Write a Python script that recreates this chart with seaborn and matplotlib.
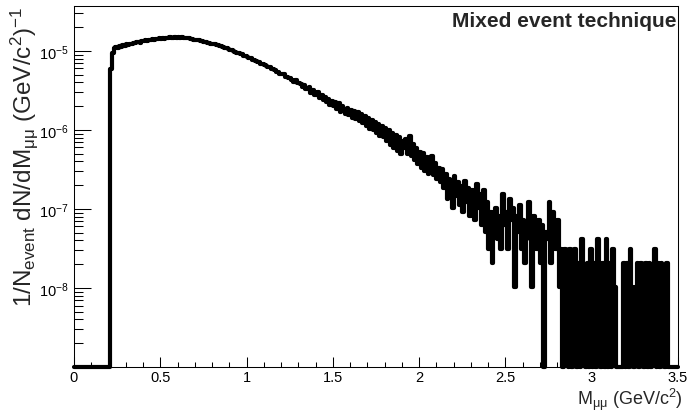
import numpy as np
import pandas as pd
import matplotlib
matplotlib.use('Agg')
import matplotlib.pyplot as plt
import matplotlib.ticker as ticker
import seaborn as sns


#### histogram binning / normalisation
bin_width = 0.01          # GeV/c^2
per_count = 1.03e-8       # 1/N_event dN/dM for one entry
y_min, y_max = 1e-9, 3.7e-5

#### entries per 0.01 GeV/c^2 bin
counts_below = [0] * 21   # 0.00 - 0.20, below the pair threshold

counts_rise = [             # 0.21 - 0.60
    580, 925, 1045, 1080, 1070, 1115, 1100, 1140, 1125, 1170,
    1150, 1195, 1180, 1230, 1215, 1250, 1270, 1240, 1300, 1285,
    1320, 1295, 1345, 1330, 1355, 1340, 1385, 1360, 1400, 1375,
    1410, 1390, 1420, 1405, 1440, 1415, 1430, 1455, 1425, 1450]

counts_peak = [             # 0.61 - 1.20
    1420, 1445, 1410, 1430, 1400, 1415, 1380, 1390, 1350, 1345,
    1320, 1330, 1290, 1300, 1255, 1270, 1230, 1240, 1195, 1190,
    1170, 1150, 1160, 1115, 1105, 1085, 1060, 1070, 1020, 1005,
    985, 965, 950, 915, 910, 880, 875, 845, 830, 815,
    790, 785, 755, 745, 730, 705, 700, 670, 660, 640,
    630, 605, 600, 575, 565, 555, 530, 525, 500, 495]

counts_fall = [             # 1.21 - 1.90
    495, 458, 460, 436, 438, 410, 396, 416, 376, 380,
    375, 336, 364, 322, 316, 336, 284, 314, 270, 268,
    290, 246, 270, 230, 250, 220, 236, 200, 226, 194,
    216, 180, 210, 165, 194, 174, 156, 184, 148, 174,
    138, 170, 132, 162, 126, 154, 118, 144, 110, 136,
    100, 130, 96, 122, 88, 116, 82, 108, 78, 102,
    70, 96, 62, 88, 58, 84, 52, 78, 48, 70]

counts_noisy = [            # 1.91 - 2.81
    58, 74, 48, 82, 45, 64, 41, 57, 36, 51,
    32, 49, 29, 44, 27, 40, 46, 26, 37, 23,
    32, 21, 31, 18, 27, 13, 23, 17, 10, 25,
    14, 21, 11, 19, 9, 22, 12, 18, 8, 17,
    11, 7, 20, 10, 15, 6, 17, 5, 12, 3,
    9, 2, 7, 10, 4, 8, 3, 15, 6, 9,
    3, 13, 7, 10, 1, 8, 5, 11, 3, 7,
    2, 6, 12, 4, 1, 8, 5, 3, 7, 2,
    6, 0, 5, 4, 12, 2, 9, 5, 3, 7, 1]

counts_tail = [             # 2.82 - 3.43
    3, 0, 3, 1, 0, 3, 0, 2, 3, 0,
    2, 0, 4, 1, 0, 2, 0, 3, 0, 2,
    0, 4, 1, 0, 2, 0, 4, 0, 2, 0,
    3, 1, 0, 0, 0, 0, 2, 0, 2, 0,
    3, 1, 0, 1, 2, 0, 2, 1, 0, 2,
    0, 2, 0, 1, 3, 0, 2, 0, 2, 1,
    0, 2]

counts_above = [0] * 6    # 3.44 - 3.49

y_decades = [1e-8, 1e-7, 1e-6, 1e-5]

counts = np.array(counts_below + counts_rise + counts_peak + counts_fall
                  + counts_noisy + counts_tail + counts_above)

edges = np.round(np.arange(len(counts) + 1) * bin_width, 2)
vals = counts * per_count
vals = np.clip(vals, y_min, None)   # empty bins sit on the frame, like ROOT
df = pd.DataFrame({'M': edges, 'y': np.append(vals, vals[-1])})

sns.set_style('ticks')
plt.rcParams['font.family'] = ['Liberation Sans', 'DejaVu Sans']
plt.rcParams['mathtext.fontset'] = 'custom'
plt.rcParams['mathtext.rm'] = 'Liberation Sans'
plt.rcParams['mathtext.it'] = 'Liberation Sans:italic'
plt.rcParams['mathtext.bf'] = 'Liberation Sans:bold'
plt.rcParams['mathtext.default'] = 'regular'

fig = plt.figure(figsize=(6.87, 4.14), dpi=100)
ax = fig.add_axes([74 / 687, 46 / 414, 604 / 687, 361 / 414])

sns.lineplot(data=df, x='M', y='y', drawstyle='steps-post', color='black',
             linewidth=3.0, estimator=None, ax=ax, clip_on=False)

ax.set_yscale('log')
ax.set_xlim(0, 3.5)
ax.set_ylim(y_min, y_max)

ax.xaxis.set_major_locator(ticker.MultipleLocator(0.5))
ax.xaxis.set_minor_locator(ticker.MultipleLocator(0.1))
ax.xaxis.set_major_formatter(ticker.FuncFormatter(lambda v, p: '%g' % v))
ax.yaxis.set_major_locator(ticker.FixedLocator(y_decades))
ax.yaxis.set_minor_locator(ticker.LogLocator(base=10, subs=np.arange(2, 10)))
ax.yaxis.set_minor_formatter(ticker.NullFormatter())

ax.tick_params(axis='both', which='both', direction='in', width=0.75,
               top=False, right=False, colors='black', labelsize=10.5)
ax.tick_params(axis='x', which='major', length=7.5, pad=2.5)
ax.tick_params(axis='x', which='minor', length=3.8)
ax.tick_params(axis='y', which='major', length=12.5, pad=4)
ax.tick_params(axis='y', which='minor', length=6.2)
for s in ax.spines.values():
    s.set_linewidth(0.75)
    s.set_color('black')

ax.set_xlabel(r'M$_{μμ}$ (GeV/c$^{2}$)', fontsize=13, loc='right')
ax.set_ylabel(r'1/N$_{event}$ dN/dM$_{μμ}$ (GeV/c$^{2}$)$^{-1}$', fontsize=17.5, loc='top')
ax.xaxis.set_label_coords(1.008, -0.052)
ax.yaxis.set_label_coords(-0.056, 1.0)

ax.text(0.997, 0.985, 'Mixed event technique', transform=ax.transAxes,
        ha='right', va='top', fontsize=15, fontweight='bold')

plt.savefig('out.png', dpi=100)
